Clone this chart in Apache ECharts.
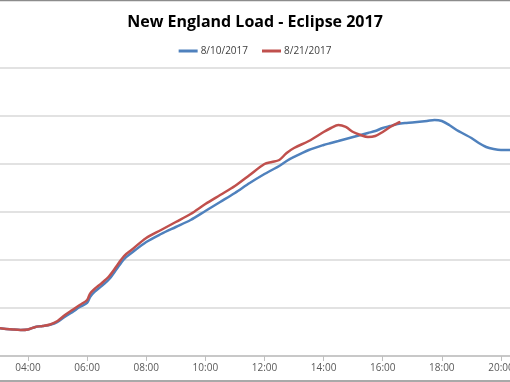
<!DOCTYPE html>
<html>
<head>
<meta charset="utf-8">
<script src="https://cdn.jsdelivr.net/npm/echarts@6/dist/echarts.min.js"></script>
<style>html,body{margin:0;padding:0;background:#fff}#c{width:510px;height:382px}</style>
</head>
<body>
<div id="c"></div>
<script>
// hours of day
const hoursA = [2.5,3.0,3.5,3.75,4.0,4.25,4.5,4.75,5.0,5.25,5.5,5.75,6.0,6.1,6.25,6.5,6.75,7.0,7.25,7.5,8.0,8.5,9.0,9.5,10.0,10.5,11.0,11.5,12.0,12.25,12.5,12.75,13.0,13.5,14.0,14.25,14.5,14.75,15.0,15.25,15.5,15.75,16.0,16.25,16.5,16.75,17.0,17.5,17.75,18.0,18.25,18.5,18.75,19.0,19.25,19.5,19.75,20.0,20.25,20.5];
// 8/10/2017 load (MW)
const loadAug10 = [11250,11167,11104,11083,11104,11208,11250,11300,11420,11640,11830,12040,12210,12460,12670,12920,13210,13625,14040,14290,14750,15083,15375,15667,16042,16417,16792,17208,17583,17750,17917,18125,18292,18583,18792,18875,18958,19042,19125,19208,19292,19375,19500,19583,19667,19708,19729,19792,19833,19792,19625,19417,19250,19083,18875,18708,18625,18583,18583,18542];
const hoursB = [2.5,3.0,3.5,3.75,4.0,4.25,4.5,4.75,5.0,5.25,5.5,5.75,6.0,6.1,6.25,6.5,6.75,7.0,7.25,7.5,8.0,8.5,9.0,9.5,10.0,10.5,11.0,11.5,12.0,12.25,12.5,12.75,13.0,13.5,14.0,14.25,14.5,14.75,15.0,15.25,15.5,15.75,16.0,16.25,16.5,16.6];
// 8/21/2017 load (MW)
const loadAug21 = [11250,11167,11104,11083,11104,11208,11250,11312,11458,11708,11917,12125,12333,12600,12792,13042,13333,13750,14167,14417,14917,15250,15583,15917,16333,16708,17083,17542,18000,18083,18167,18458,18667,18958,19333,19500,19625,19542,19333,19208,19125,19167,19333,19542,19708,19750];
const seriesNames = ['8/10/2017','8/21/2017'];
const xTicks = [4,6,8,10,12,14,16,18,20];
const yTicks = [10000,12000,14000,16000,18000,20000,22000];

const pair = (h, v) => h.map((x, i) => [x, v[i]]);
const fmt = h => String(h).padStart(2,'0') + ':00';

const chart = echarts.init(document.getElementById('c'));
chart.setOption({
  animation: false,
  backgroundColor: '#fff',
  title: {
    text: 'New England Load - Eclipse 2017',
    left: 'center', top: 9,
    textStyle: {fontFamily: 'Open Sans', fontWeight: 'bold', fontSize: 16, color: '#000'}
  },
  legend: {
    top: 41, left: 'center',
    itemWidth: 19, itemHeight: 3, itemGap: 14,
    icon: 'rect',
    textStyle: {fontFamily: 'Open Sans', fontSize: 10, color: '#404040', padding: [0,0,0,-2]},
    data: seriesNames
  },
  grid: {left: 0, right: 0, top: 68, bottom: 26, containLabel: false, outerBoundsMode: 'none'},
  xAxis: {
    type: 'value', min: 3.053, max: 20.306,
    axisLine: {show: true, lineStyle: {color: '#BFBFBF', width: 1.5}},
    axisTick: {show: true, length: 5, lineStyle: {color: '#BFBFBF'}, customValues: xTicks},
    axisLabel: {formatter: v => fmt(v), fontFamily: 'Open Sans', fontSize: 10, color: '#595959', margin: 7, customValues: xTicks, hideOverlap: false},
    splitLine: {show: false}
  },
  yAxis: {
    type: 'value', min: 10000, max: 22000, interval: 2000,
    axisLine: {show: false}, axisTick: {show: false},
    axisLabel: {show: false},
    splitLine: {lineStyle: {color: '#D9D9D9', width: 1.5}}
  },
  series: [
    {name: seriesNames[0], type: 'line', data: pair(hoursA, loadAug10), showSymbol: false, smooth: 0.3,
     lineStyle: {color: '#4F81BD', width: 2.5}, itemStyle: {color: '#4F81BD'}},
    {name: seriesNames[1], type: 'line', data: pair(hoursB, loadAug21), showSymbol: false, smooth: 0.3,
     lineStyle: {color: '#C0504D', width: 2.5}, itemStyle: {color: '#C0504D'}}
  ],
  graphic: [
    {type: 'line', shape: {x1: 0, y1: 0.5, x2: 510, y2: 0.5}, style: {stroke: '#8C8C8C', lineWidth: 1.5}},
    {type: 'line', shape: {x1: 0, y1: 381, x2: 510, y2: 381}, style: {stroke: '#8C8C8C', lineWidth: 1.5}}
  ]
});
</script>
</body>
</html>
